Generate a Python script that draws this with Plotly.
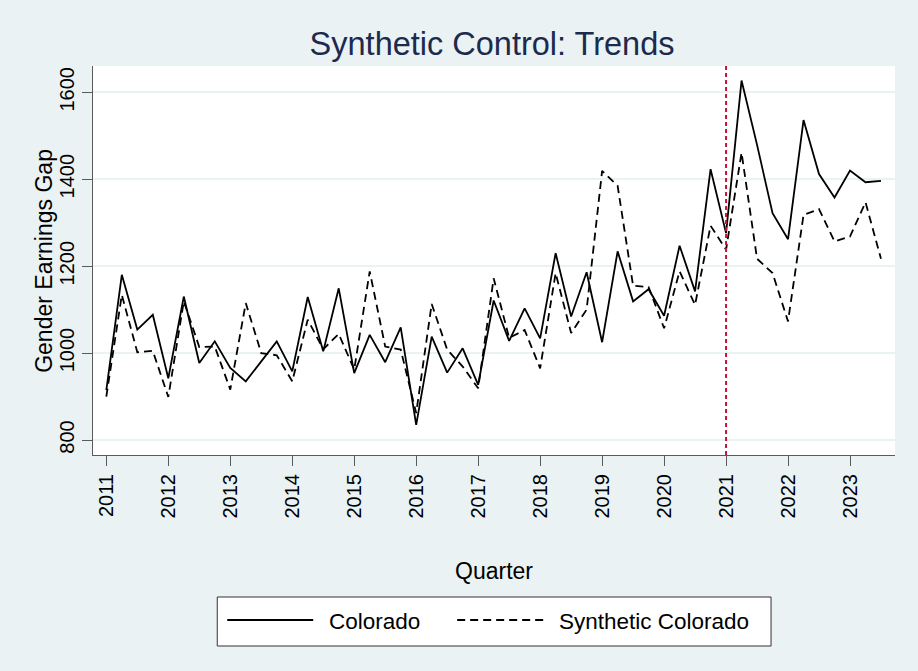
import plotly.graph_objects as go

# Quarterly series, 2011Q1 through 2023Q3
years = list(range(2011, 2024))
quarters = [y + q / 4 for y in years for q in range(4)][:51]

colorado = [
    915, 1180, 1054, 1088, 942, 1130, 977, 1027, 966, 935, 981, 1027, 958,
    1129, 1004, 1149, 954, 1042, 979, 1059, 835, 1038, 955, 1011, 927, 1121,
    1028, 1103, 1034, 1230, 1084, 1186, 1025, 1234, 1119, 1147, 1086, 1247,
    1142, 1423, 1276, 1627, 1479, 1322, 1262, 1536, 1412, 1358, 1420, 1393,
    1396,
]
synthetic = [
    900, 1134, 1002, 1005, 899, 1119, 1014, 1015, 916, 1115, 1000, 995, 935,
    1077, 1009, 1044, 962, 1188, 1015, 1008, 862, 1113, 1008, 969, 919, 1172,
    1035, 1053, 965, 1184, 1046, 1100, 1419, 1385, 1155, 1152, 1057, 1188,
    1111, 1293, 1238, 1461, 1217, 1184, 1073, 1318, 1331, 1257, 1268, 1347,
    1217,
]
treatment_year = 2021
x_ticks = years
y_ticks = [800, 1000, 1200, 1400, 1600]
series_names = ["Colorado", "Synthetic Colorado"]

FONT = "Liberation Sans, Arial, sans-serif"
BG = "#eaf2f3"
AXIS = "#5a5a5a"

# plot-area geometry in pixels (used for the hand-built legend)
L, R, T, B = 92.7, 895.0, 66.0, 455.0
W, H = R - L, B - T


def px(xp):
    return (xp - L) / W


def py(yp):
    return (B - yp) / H


fig = go.Figure()
fig.add_trace(go.Scatter(
    x=quarters, y=colorado, mode="lines", name=series_names[0],
    line=dict(color="black", width=1.8), showlegend=False,
))
fig.add_trace(go.Scatter(
    x=quarters, y=synthetic, mode="lines", name=series_names[1],
    line=dict(color="black", width=1.8, dash="8px,5px"), showlegend=False,
))

# treatment start marker
fig.add_vline(x=treatment_year, line=dict(color="#c8103a", width=2, dash="4px,3px"))

# legend box below the axis
fig.add_shape(type="rect", xref="paper", yref="paper",
              x0=px(217), x1=px(771), y0=py(597), y1=py(646),
              line=dict(color="#333", width=1), fillcolor="white", layer="below")
fig.add_shape(type="line", xref="paper", yref="paper",
              x0=px(227), x1=px(313), y0=py(620), y1=py(620),
              line=dict(color="black", width=1.8))
fig.add_shape(type="line", xref="paper", yref="paper",
              x0=px(457), x1=px(545), y0=py(620), y1=py(620),
              line=dict(color="black", width=1.8, dash="8px,5px"))
fig.add_annotation(text=series_names[0], xref="paper", yref="paper",
                   x=px(327), y=py(621), xanchor="left", yanchor="middle",
                   showarrow=False, font=dict(family=FONT, size=22.5, color="black"))
fig.add_annotation(text=series_names[1], xref="paper", yref="paper",
                   x=px(557), y=py(621), xanchor="left", yanchor="middle",
                   showarrow=False, font=dict(family=FONT, size=22.5, color="black"))

# y-axis title set close to the rotated tick labels
fig.add_annotation(text="Gender Earnings Gap", xref="paper", yref="paper",
                   x=px(43), y=0.5, xanchor="center", yanchor="middle",
                   textangle=-90, showarrow=False,
                   font=dict(family=FONT, size=23, color="black"))

fig.update_layout(
    width=918, height=671,
    margin=dict(l=L, r=918 - R, t=T, b=671 - B),
    paper_bgcolor=BG, plot_bgcolor="white",
    title=dict(text="Synthetic Control: Trends", x=0.536, xanchor="center",
               y=1 - 44 / 671, yanchor="middle",
               font=dict(family=FONT, size=32.5, color="#1c2a4d")),
    font=dict(family=FONT, color="black"),
)
fig.update_xaxes(
    range=[2010.785, 2023.726], tickvals=x_ticks, ticktext=[str(t) for t in x_ticks],
    tickangle=-90, tickfont=dict(size=20), ticks="outside", ticklen=10,
    tickcolor=AXIS, showline=True, linecolor=AXIS, linewidth=1.2,
    showgrid=False, zeroline=False,
    title=dict(text="Quarter", font=dict(size=23), standoff=45),
)
fig.update_yaxes(
    range=[765.5, 1660.5], tickvals=y_ticks, tickangle=-90, tickfont=dict(size=20),
    ticks="outside", ticklen=10, tickcolor=AXIS, showline=True, linecolor=AXIS,
    linewidth=1.2, showgrid=True, gridcolor=BG, gridwidth=1.5, zeroline=False,
)

fig.write_html("out.html")
